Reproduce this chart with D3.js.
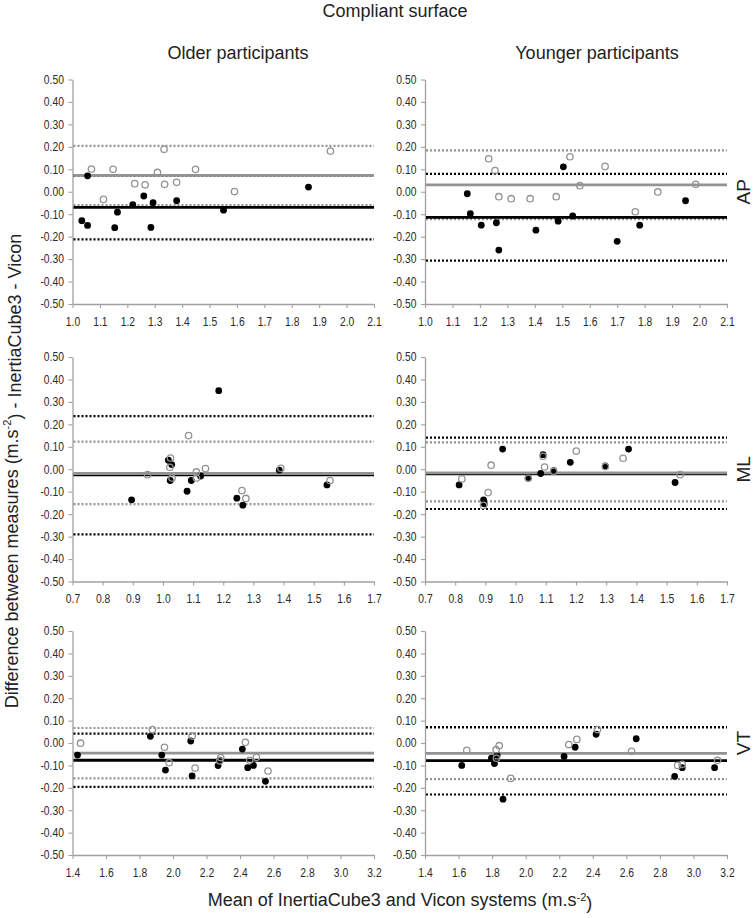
<!DOCTYPE html>
<html><head><meta charset="utf-8">
<script src="https://cdn.jsdelivr.net/npm/d3@7"></script>
<style>body{margin:0;background:#fff} svg{display:block} text{font-family:"Liberation Sans",Arial,sans-serif}</style>
</head><body><svg id="c" width="753" height="918"></svg>
<script>
// ---------- DATA ----------
const yTicks = [-0.5,-0.4,-0.3,-0.2,-0.1,0,0.1,0.2,0.3,0.4,0.5];
const xTicksAP = [1.0,1.1,1.2,1.3,1.4,1.5,1.6,1.7,1.8,1.9,2.0,2.1];
const xTicksML = [0.7,0.8,0.9,1.0,1.1,1.2,1.3,1.4,1.5,1.6,1.7];
const xTicksVT = [1.4,1.6,1.8,2.0,2.2,2.4,2.6,2.8,3.0,3.2];
const columnTitles = ["Older participants","Younger participants"];
const rowLabels = ["AP","ML","VT"];

// limits: [mean, upper LoA, lower LoA]
const olderAPFilled = [[1.034,-0.129],[1.055,-0.150],[1.055,0.071],[1.154,-0.160],[1.164,-0.091],[1.220,-0.058],[1.260,-0.019],[1.294,-0.049],[1.286,-0.159],[1.380,-0.040],[1.551,-0.082],[1.861,0.021]];
const olderAPOpen = [[1.069,0.101],[1.148,0.100],[1.113,-0.034],[1.227,0.036],[1.265,0.031],[1.310,0.086],[1.334,0.189],[1.336,0.033],[1.380,0.042],[1.449,0.100],[1.591,0.001],[1.941,0.181]];
const olderAPFilledLimits = [-0.070,0.072,-0.212];
const olderAPOpenLimits = [0.073,0.204,-0.059];

const youngerAPFilled = [[1.154,-0.009],[1.165,-0.098],[1.205,-0.149],[1.260,-0.138],[1.269,-0.260],[1.404,-0.171],[1.485,-0.131],[1.504,0.111],[1.538,-0.108],[1.700,-0.221],[1.782,-0.149],[1.949,-0.040]];
const youngerAPOpen = [[1.232,0.147],[1.255,0.094],[1.269,-0.022],[1.314,-0.031],[1.383,-0.031],[1.478,-0.022],[1.528,0.156],[1.564,0.027],[1.656,0.113],[1.766,-0.089],[1.848,-0.001],[1.986,0.033]];
const youngerAPFilledLimits = [-0.114,0.080,-0.307];
const youngerAPOpenLimits = [0.031,0.184,-0.122];

const olderMLFilled = [[0.896,-0.136],[1.018,0.040],[1.029,0.021],[1.024,-0.050],[1.080,-0.098],[1.094,-0.050],[1.125,-0.030],[1.185,0.350],[1.245,-0.129],[1.265,-0.160],[1.386,-0.004],[1.544,-0.070]];
const olderMLOpen = [[0.949,-0.024],[1.025,0.050],[1.023,0.009],[1.030,-0.039],[1.085,0.150],[1.111,-0.012],[1.111,-0.039],[1.141,0.003],[1.262,-0.095],[1.275,-0.130],[1.391,0.004],[1.554,-0.050]];
const olderMLFilledLimits = [-0.025,0.237,-0.290];
const olderMLOpenLimits = [-0.019,0.123,-0.155];

const youngerMLFilled = [[0.813,-0.070],[0.894,-0.136],[0.896,-0.154],[0.957,0.090],[1.042,-0.037],[1.083,-0.019],[1.091,0.065],[1.126,-0.006],[1.181,0.031],[1.297,0.015],[1.374,0.090],[1.528,-0.059]];
const youngerMLOpen = [[0.822,-0.043],[0.919,0.018],[0.909,-0.104],[0.894,-0.161],[1.042,-0.040],[1.091,0.058],[1.096,0.010],[1.126,-0.009],[1.201,0.081],[1.297,0.012],[1.356,0.049],[1.545,-0.024]];
const youngerMLFilledLimits = [-0.021,0.141,-0.177];
const youngerMLOpenLimits = [-0.016,0.120,-0.143];

const olderVTFilled = [[1.430,-0.054],[1.865,0.030],[1.933,-0.054],[1.955,-0.121],[2.106,0.009],[2.114,-0.147],[2.269,-0.101],[2.279,-0.077],[2.414,-0.027],[2.446,-0.110],[2.480,-0.100],[2.552,-0.171]];
const olderVTOpen = [[1.448,-0.001],[1.877,0.060],[1.949,-0.019],[1.977,-0.088],[2.114,0.031],[2.132,-0.112],[2.285,-0.065],[2.279,-0.080],[2.432,0.003],[2.458,-0.077],[2.498,-0.064],[2.567,-0.125]];
const olderVTFilledLimits = [-0.077,0.042,-0.196];
const olderVTOpenLimits = [-0.045,0.067,-0.158];

const youngerVTFilled = [[1.619,-0.100],[1.796,-0.068],[1.814,-0.092],[1.830,-0.055],[1.865,-0.251],[2.229,-0.060],[2.295,-0.019],[2.420,0.039],[2.659,0.019],[2.888,-0.149],[2.933,-0.110],[3.126,-0.110]];
const youngerVTOpen = [[1.649,-0.033],[1.824,-0.030],[1.842,-0.012],[1.826,-0.068],[1.911,-0.158],[2.257,-0.007],[2.305,0.016],[2.428,0.060],[2.631,-0.037],[2.906,-0.100],[2.933,-0.095],[3.144,-0.077]];
const youngerVTFilledLimits = [-0.079,0.071,-0.230];
const youngerVTOpenLimits = [-0.046,0.069,-0.161];

// ---------- LAYOUT ----------
const svg = d3.select("#c");
const cols = [{x0:72.5,x1:374},{x0:425,x1:727}];
const rows = [{y0:79.5,y1:304},{y0:357,y1:581.5},{y0:631,y1:855}];
const GRAY = "#939393", AXIS = "#a0a0a0", TXT = "#2a2a2a";

const panels = [
  {r:0,c:0,dom:[1.0,2.1],ticks:xTicksAP,fil:olderAPFilled,opn:olderAPOpen,fl:olderAPFilledLimits,ol:olderAPOpenLimits},
  {r:0,c:1,dom:[1.0,2.1],ticks:xTicksAP,fil:youngerAPFilled,opn:youngerAPOpen,fl:youngerAPFilledLimits,ol:youngerAPOpenLimits},
  {r:1,c:0,dom:[0.7,1.7],ticks:xTicksML,fil:olderMLFilled,opn:olderMLOpen,fl:olderMLFilledLimits,ol:olderMLOpenLimits},
  {r:1,c:1,dom:[0.7,1.7],ticks:xTicksML,fil:youngerMLFilled,opn:youngerMLOpen,fl:youngerMLFilledLimits,ol:youngerMLOpenLimits},
  {r:2,c:0,dom:[1.4,3.2],ticks:xTicksVT,fil:olderVTFilled,opn:olderVTOpen,fl:olderVTFilledLimits,ol:olderVTOpenLimits},
  {r:2,c:1,dom:[1.4,3.2],ticks:xTicksVT,fil:youngerVTFilled,opn:youngerVTOpen,fl:youngerVTFilledLimits,ol:youngerVTOpenLimits}
];

panels.forEach(p => {
  const C = cols[p.c], R = rows[p.r];
  const x = d3.scaleLinear().domain(p.dom).range([C.x0, C.x1]);
  const y = d3.scaleLinear().domain([-0.5,0.5]).range([R.y1, R.y0]);
  const g = svg.append("g");

  const ya = g.append("g").attr("transform",`translate(${C.x0},0)`)
    .call(d3.axisLeft(y).tickValues(yTicks).tickFormat(v => (Math.abs(v)<1e-9?0:v).toFixed(2)).tickSize(4).tickSizeOuter(0).tickPadding(6));
  const xa = g.append("g").attr("transform",`translate(0,${R.y1})`)
    .call(d3.axisBottom(x).tickValues(p.ticks).tickFormat(v => v.toFixed(1)).tickSize(4).tickSizeOuter(0).tickPadding(9));
  [ya,xa].forEach(a => {
    a.select(".domain").attr("stroke",AXIS).attr("stroke-width",1.3);
    a.selectAll(".tick line").attr("stroke",AXIS).attr("stroke-width",1.1);
    a.selectAll(".tick text").attr("fill",TXT).style("font-size","12px")
      .style("font-family",'"Liberation Sans",Arial,sans-serif');
  });
  // slightly condensed tick labels, as in the reference
  ya.selectAll(".tick text").attr("transform","scale(0.86,1)");
  xa.selectAll(".tick text").attr("transform","scale(0.86,1)");

  const hline = (v, color, w, dash) => g.append("line")
    .attr("x1",x(p.dom[0])+1).attr("x2",x(p.dom[1])).attr("y1",y(v)).attr("y2",y(v))
    .attr("stroke",color).attr("stroke-width",w).attr("stroke-dasharray",dash||null);
  hline(p.ol[1], GRAY, 2.2, "2,2"); hline(p.ol[2], GRAY, 2.2, "2,2");
  hline(p.fl[1], "#000", 2.2, "2,2"); hline(p.fl[2], "#000", 2.2, "2,2");
  hline(p.fl[0], "#000", 2.8);
  hline(p.ol[0], GRAY, 2.8);

  g.append("g").selectAll("circle").data(p.fil).join("circle")
    .attr("cx",d=>x(d[0])).attr("cy",d=>y(d[1])).attr("r",3.4).attr("fill","#000");
  g.append("g").selectAll("circle").data(p.opn).join("circle")
    .attr("cx",d=>x(d[0])).attr("cy",d=>y(d[1])).attr("r",3.2).attr("fill","none")
    .attr("stroke",GRAY).attr("stroke-width",1.3);
});

// titles
svg.append("text").attr("x",395).attr("y",17).attr("text-anchor","middle")
  .style("font-size","18px").attr("fill","#222").text("Compliant surface");
svg.selectAll(".ct").data(columnTitles).join("text").attr("class","ct")
  .attr("x",(d,i)=>i===0?238:597).attr("y",59).attr("text-anchor","middle")
  .style("font-size","18px").attr("fill","#222").text(d=>d);
svg.selectAll(".rl").data(rowLabels).join("text").attr("class","rl")
  .attr("transform",(d,i)=>`translate(743,${(rows[i].y0+rows[i].y1)/2}) rotate(-90)`)
  .attr("text-anchor","middle").attr("dominant-baseline","central")
  .style("font-size","19px").attr("fill","#222").text(d=>d);

// y-axis title
const yt = svg.append("text").attr("transform","translate(12,471) rotate(-90)")
  .attr("text-anchor","middle").attr("dominant-baseline","central")
  .style("font-size","18px").attr("fill","#222");
yt.append("tspan").text("Difference between measures (m.s");
yt.append("tspan").attr("dy","-0.45em").style("font-size","11px").text("-2");
yt.append("tspan").attr("dy","0.45em").text(") - InertiaCube3 - Vicon");

// x-axis title
const xt = svg.append("text").attr("x",400).attr("y",906).attr("text-anchor","middle")
  .style("font-size","18px").attr("fill","#222");
xt.append("tspan").text("Mean of InertiaCube3 and Vicon systems (m.s");
xt.append("tspan").attr("dy","-0.45em").style("font-size","11px").text("-2");
xt.append("tspan").attr("dy","0.45em").text(")");
</script></body></html>
